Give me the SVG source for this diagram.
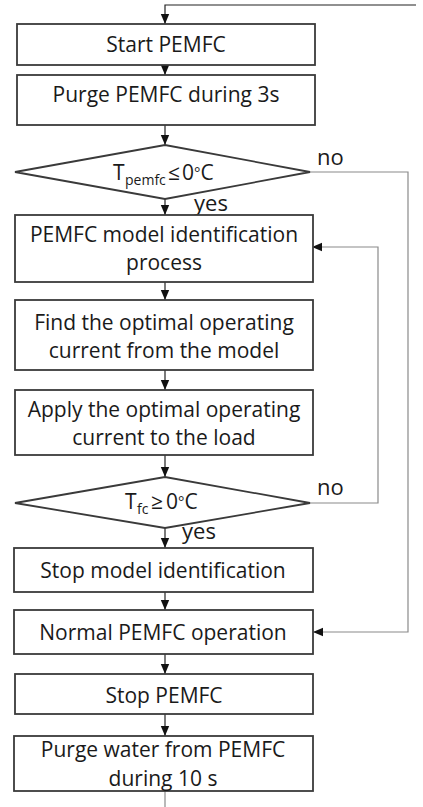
<svg xmlns="http://www.w3.org/2000/svg" width="423" height="807" viewBox="0 0 423 807">
<style>
.box{fill:#fff;stroke:#3a3a3a;stroke-width:1.8}
.t{font-family:"Open Sans","Noto Sans","DejaVu Sans",sans-serif;font-size:21px;fill:#1a1a1a;text-anchor:middle}
.f{font-family:"Open Sans","Noto Sans","DejaVu Sans",sans-serif;font-size:21px;fill:#1a1a1a}
.sub{font-size:14px}
.deg{font-size:15px}
.lbl{font-family:"Open Sans","Noto Sans","DejaVu Sans",sans-serif;font-size:22px;fill:#1a1a1a}
.c{fill:none;stroke:#222;stroke-width:1.2}
.g{fill:none;stroke:#8a8a8a;stroke-width:1.2}
</style>
<defs>
<marker id="ah" markerUnits="userSpaceOnUse" markerWidth="10" markerHeight="10" viewBox="0 0 10 10" refX="10" refY="5" orient="auto">
<path d="M0,0.8 L10,5 L0,9.2 Z" fill="#111"/>
</marker>
</defs>
<g id="connectors">
<path class="c" d="M416,5 H165 V24" marker-end="url(#ah)"/>
<path class="c" d="M165,65 V75" marker-end="url(#ah)"/>
<path class="c" d="M165,125 V145" marker-end="url(#ah)"/>
<path class="c" d="M165,199 V215" marker-end="url(#ah)"/>
<path class="g" d="M310,172 H408 V632 H313" marker-end="url(#ah)"/>
<path class="c" d="M165,282 V300" marker-end="url(#ah)"/>
<path class="c" d="M165,370 V390" marker-end="url(#ah)"/>
<path class="c" d="M165,455 V477" marker-end="url(#ah)"/>
<path class="g" d="M310,503 H378 V247 H312" marker-end="url(#ah)"/>
<path class="c" d="M165,528 V548" marker-end="url(#ah)"/>
<path class="c" d="M165,592 V610" marker-end="url(#ah)"/>
<path class="c" d="M165,654 V674" marker-end="url(#ah)"/>
<path class="c" d="M165,714 V736" marker-end="url(#ah)"/>
<path class="g" d="M165,791 V807"/>
</g>
<g id="start">
<rect class="box" x="17" y="24" width="298" height="41"/>
<text class="t" x="166" y="52">Start PEMFC</text>
</g>
<g id="purge">
<rect class="box" x="17" y="75" width="298" height="50"/>
<text class="t" x="166" y="102">Purge PEMFC during 3s</text>
</g>
<g id="dec1">
<polygon class="box" points="15,172 165,145 310,172 165,199"/>
<text class="f" y="180"><tspan x="113">T</tspan><tspan class="sub" x="125" y="185">pemfc</tspan><tspan x="168" y="180">≤</tspan><tspan x="182">0</tspan><tspan class="deg" y="178">°</tspan><tspan y="180">C</tspan></text>
<text class="lbl" x="317" y="165">no</text>
<text class="lbl" x="194" y="211">yes</text>
</g>
<g id="ident">
<rect class="box" x="15" y="215" width="298" height="67"/>
<text class="t" x="164" y="242">PEMFC model identification</text>
<text class="t" x="164" y="270">process</text>
</g>
<g id="find">
<rect class="box" x="15" y="300" width="298" height="70"/>
<text class="t" x="164" y="330">Find the optimal operating</text>
<text class="t" x="164" y="358">current from the model</text>
</g>
<g id="apply">
<rect class="box" x="15" y="390" width="298" height="65"/>
<text class="t" x="164" y="417">Apply the optimal operating</text>
<text class="t" x="164" y="445">current to the load</text>
</g>
<g id="dec2">
<polygon class="box" points="15,503 165,477 310,503 165,528"/>
<text class="f" y="509"><tspan x="125">T</tspan><tspan class="sub" x="137" y="514">fc</tspan><tspan x="151" y="509">≥</tspan><tspan x="166">0</tspan><tspan class="deg" y="507">°</tspan><tspan y="509">C</tspan></text>
<text class="lbl" x="317" y="495">no</text>
<text class="lbl" x="182" y="539">yes</text>
</g>
<g id="stopid">
<rect class="box" x="14" y="548" width="299" height="44"/>
<text class="t" x="163" y="578">Stop model identification</text>
</g>
<g id="normal">
<rect class="box" x="14" y="610" width="299" height="44"/>
<text class="t" x="163" y="640">Normal PEMFC operation</text>
</g>
<g id="stop">
<rect class="box" x="15" y="674" width="298" height="40"/>
<text class="t" x="164" y="703">Stop PEMFC</text>
</g>
<g id="purgewater">
<rect class="box" x="14" y="736" width="299" height="55"/>
<text class="t" x="163" y="757">Purge water from PEMFC</text>
<text class="t" x="163" y="786">during 10 s</text>
</g>
</svg>
